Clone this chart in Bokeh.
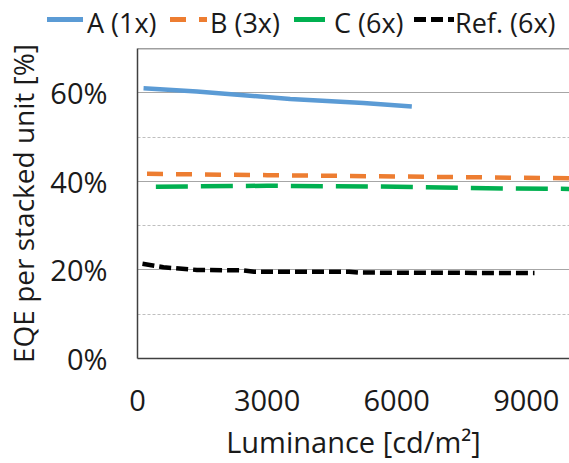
from bokeh.plotting import figure
from bokeh.layouts import column
from bokeh.models import (FixedTicker, PrintfTickFormatter, Range1d, Span, Div)
from bokeh.embed import file_html
from bokeh.resources import INLINE

# ---- data ----
a_x = [140, 1375, 3535, 5230, 6350]
a_y = [61.0, 60.3, 58.6, 57.7, 56.9]

b_x = [220, 3000, 6000, 10000]
b_y = [41.7, 41.4, 41.1, 40.7]

c_x = [425, 3000, 6000, 8500, 10000]
c_y = [38.8, 39.0, 38.8, 38.4, 38.3]

ref_x = [115, 600, 1375, 2450, 2700, 4900, 5150, 9190]
ref_y = [21.4, 20.6, 20.0, 19.9, 19.6, 19.6, 19.4, 19.3]

series_labels = ["A (1x)", "B (3x)", "C (6x)", "Ref. (6x)"]
x_ticks = [0, 3000, 6000, 9000]
y_ticks = [0, 20, 40, 60]
y_minor = [10, 30, 50]

FONT = "Open Sans"
TXT = "#1a1a1a"

colors = ["#5b9bd5", "#ed7d31", "#00b050", "#000000"]
dashes = ["solid", "16 13", "32 13", "12 5"]

W = 569
LEG_H = 38
p = figure(width=W, height=463 - LEG_H, output_backend="svg",
           toolbar_location=None,
           x_range=Range1d(0, 10000), y_range=Range1d(0, 70),
           min_border_left=137, min_border_right=0, min_border_top=48 - LEG_H,
           min_border_bottom=105)
p.outline_line_color = None
p.background_fill_color = "white"
p.border_fill_color = "white"

for xs, ys, col, dash in zip([a_x, b_x, c_x, ref_x], [a_y, b_y, c_y, ref_y],
                             colors, dashes):
    p.line(xs, ys, line_color=col, line_width=4.5, line_dash=dash)

p.xgrid.visible = False
p.ygrid.ticker = FixedTicker(ticks=y_ticks, minor_ticks=y_minor)
p.ygrid.grid_line_color = "#a6a6a6"
p.ygrid.grid_line_width = 1.2
p.ygrid.minor_grid_line_color = "#bfbfbf"
p.ygrid.minor_grid_line_dash = "3 2"
p.ygrid.minor_grid_line_width = 1

p.add_layout(Span(location=70, dimension="width", line_color="#404040",
                  line_width=1.5))

for ax in (p.xaxis[0], p.yaxis[0]):
    ax.axis_line_color = "#404040"
    ax.axis_line_width = 1.5
    ax.major_tick_line_color = None
    ax.minor_tick_line_color = None
    ax.major_tick_out = 0
    ax.major_tick_in = 0
    ax.minor_tick_out = 0
    ax.major_label_text_font = FONT
    ax.major_label_text_font_size = "29px"
    ax.major_label_text_color = TXT
    ax.axis_label_text_font = FONT
    ax.axis_label_text_font_size = "28px"
    ax.axis_label_text_font_style = "normal"
    ax.axis_label_text_color = TXT

p.xaxis.axis_label_text_font_size = "29px"
p.xaxis.ticker = FixedTicker(ticks=x_ticks)
p.yaxis.ticker = FixedTicker(ticks=y_ticks)
p.yaxis.formatter = PrintfTickFormatter(format="%d%%")
p.xaxis.axis_label = "Luminance [cd/m²]"
p.yaxis.axis_label = "EQE per stacked unit [%]"
p.xaxis.major_label_standoff = 31
p.xaxis.axis_label_standoff = 8
p.yaxis.major_label_standoff = 30
p.yaxis.axis_label_standoff = 5

# ---- legend strip (HTML) ----
leg_line_left = [47, 170, 294, 414]
leg_line_w = [36, 37, 31, 40]
leg_text_left = [87, 210, 334, 455]


def line_bg(col, dash):
    if dash == "solid":
        return col
    on, off = (int(v) for v in dash.split())
    return (f"repeating-linear-gradient(to right, {col} 0px, {col} {on}px, "
            f"transparent {on}px, transparent {on + off}px)")


parts = []
for lab, col, dash, ll, lw, tl in zip(series_labels, colors, dashes,
                                      leg_line_left, leg_line_w, leg_text_left):
    parts.append(f'<span style="position:absolute;left:{ll}px;top:17px;'
                 f'width:{lw}px;height:4.5px;background:{line_bg(col, dash)};">'
                 f'</span>')
    parts.append(f'<span style="position:absolute;left:{tl}px;top:9px;'
                 f'line-height:27px;white-space:nowrap;">{lab}</span>')
html = (f'<div style="position:relative;width:{W}px;height:{LEG_H}px;'
        f"font-family:'{FONT}';font-size:27px;color:{TXT};\">"
        + "".join(parts) + "</div>")
leg = Div(text=html, width=W, height=LEG_H, margin=(0, 0, 0, 0))

layout = column(leg, p, spacing=0)
open("out.html", "w").write(file_html(layout, INLINE))
